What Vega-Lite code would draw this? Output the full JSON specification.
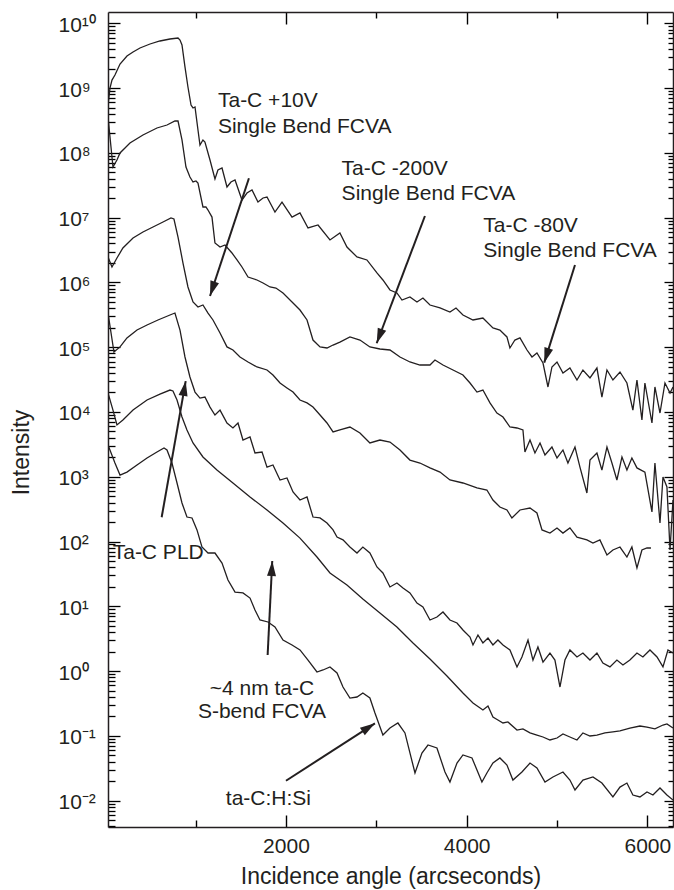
{
  "$schema": "https://vega.github.io/schema/vega-lite/v6.json",
  "width": 565,
  "height": 815,
  "autosize": {"type": "none"},
  "padding": {"left": 108, "top": 12, "right": 1, "bottom": 63},
  "background": "white",
  "config": {
    "view": {"stroke": null},
    "axis": {"grid": false, "labelFont": "Liberation Sans", "titleFont": "Liberation Sans", "labelColor": "#231f20", "titleColor": "#231f20", "titleFontWeight": "normal", "labelOverlap": false, "labelFlush": false},
    "text": {"font": "Liberation Sans", "fontSize": 21, "color": "#231f20"}
  },
  "resolve": {"axis": {"x": "independent", "y": "independent"}},
  "datasets": {
    "curves": [
      {"series":"Ta-C -80V","x":30,"y":5.48e8},{"series":"Ta-C -80V","x":52,"y":1.00e9},{"series":"Ta-C -80V","x":74,"y":1.33e9},{"series":"Ta-C -80V","x":107,"y":1.59e9},{"series":"Ta-C -80V","x":163,"y":2.35e9},{"series":"Ta-C -80V","x":240,"y":3.13e9},{"series":"Ta-C -80V","x":307,"y":3.61e9},{"series":"Ta-C -80V","x":384,"y":4.16e9},{"series":"Ta-C -80V","x":495,"y":4.79e9},{"series":"Ta-C -80V","x":605,"y":5.33e9},{"series":"Ta-C -80V","x":716,"y":5.72e9},{"series":"Ta-C -80V","x":805,"y":5.93e9},{"series":"Ta-C -80V","x":827,"y":5.52e9},{"series":"Ta-C -80V","x":849,"y":4.62e9},{"series":"Ta-C -80V","x":882,"y":2.12e9},{"series":"Ta-C -80V","x":915,"y":1.04e9},{"series":"Ta-C -80V","x":949,"y":5.48e8},{"series":"Ta-C -80V","x":971,"y":4.93e8},{"series":"Ta-C -80V","x":993,"y":5.10e8},{"series":"Ta-C -80V","x":1026,"y":2.25e8},{"series":"Ta-C -80V","x":1048,"y":1.32e8},{"series":"Ta-C -80V","x":1081,"y":1.58e8},{"series":"Ta-C -80V","x":1103,"y":1.47e8},{"series":"Ta-C -80V","x":1159,"y":7.76e7},{"series":"Ta-C -80V","x":1214,"y":3.95e7},{"series":"Ta-C -80V","x":1247,"y":5.44e7},{"series":"Ta-C -80V","x":1292,"y":5.84e7},{"series":"Ta-C -80V","x":1347,"y":2.97e7},{"series":"Ta-C -80V","x":1391,"y":3.55e7},{"series":"Ta-C -80V","x":1436,"y":3.81e7},{"series":"Ta-C -80V","x":1513,"y":1.87e7},{"series":"Ta-C -80V","x":1568,"y":2.40e7},{"series":"Ta-C -80V","x":1624,"y":2.67e7},{"series":"Ta-C -80V","x":1690,"y":1.74e7},{"series":"Ta-C -80V","x":1746,"y":2.01e7},{"series":"Ta-C -80V","x":1790,"y":2.08e7},{"series":"Ta-C -80V","x":1878,"y":1.22e7},{"series":"Ta-C -80V","x":1956,"y":1.74e7},{"series":"Ta-C -80V","x":2067,"y":1.02e7},{"series":"Ta-C -80V","x":2155,"y":1.18e7},{"series":"Ta-C -80V","x":2244,"y":6.92e6},{"series":"Ta-C -80V","x":2355,"y":7.70e6},{"series":"Ta-C -80V","x":2487,"y":4.52e6},{"series":"Ta-C -80V","x":2597,"y":5.79e6},{"series":"Ta-C -80V","x":2675,"y":3.52e6},{"series":"Ta-C -80V","x":2786,"y":2.47e6},{"series":"Ta-C -80V","x":2896,"y":2.22e6},{"series":"Ta-C -80V","x":3007,"y":1.40e6},{"series":"Ta-C -80V","x":3073,"y":1.09e6},{"series":"Ta-C -80V","x":3151,"y":7.64e5},{"series":"Ta-C -80V","x":3228,"y":6.87e5},{"series":"Ta-C -80V","x":3284,"y":5.35e5},{"series":"Ta-C -80V","x":3372,"y":5.96e5},{"series":"Ta-C -80V","x":3450,"y":4.99e5},{"series":"Ta-C -80V","x":3516,"y":5.75e5},{"series":"Ta-C -80V","x":3594,"y":4.48e5},{"series":"Ta-C -80V","x":3705,"y":4.03e5},{"series":"Ta-C -80V","x":3815,"y":3.49e5},{"series":"Ta-C -80V","x":3882,"y":4.03e5},{"series":"Ta-C -80V","x":3959,"y":3.14e5},{"series":"Ta-C -80V","x":4070,"y":2.63e5},{"series":"Ta-C -80V","x":4180,"y":2.82e5},{"series":"Ta-C -80V","x":4291,"y":1.98e5},{"series":"Ta-C -80V","x":4368,"y":1.84e5},{"series":"Ta-C -80V","x":4446,"y":1.44e5},{"series":"Ta-C -80V","x":4479,"y":9.72e4},{"series":"Ta-C -80V","x":4534,"y":1.29e5},{"series":"Ta-C -80V","x":4590,"y":1.39e5},{"series":"Ta-C -80V","x":4668,"y":9.05e4},{"series":"Ta-C -80V","x":4723,"y":7.06e4},{"series":"Ta-C -80V","x":4778,"y":8.14e4},{"series":"Ta-C -80V","x":4845,"y":5.70e4},{"series":"Ta-C -80V","x":4900,"y":2.43e4},{"series":"Ta-C -80V","x":4944,"y":4.95e4},{"series":"Ta-C -80V","x":5000,"y":5.91e4},{"series":"Ta-C -80V","x":5066,"y":4.00e4},{"series":"Ta-C -80V","x":5143,"y":4.77e4},{"series":"Ta-C -80V","x":5221,"y":3.12e4},{"series":"Ta-C -80V","x":5287,"y":4.45e4},{"series":"Ta-C -80V","x":5365,"y":3.35e4},{"series":"Ta-C -80V","x":5442,"y":4.77e4},{"series":"Ta-C -80V","x":5497,"y":1.70e4},{"series":"Ta-C -80V","x":5553,"y":4.45e4},{"series":"Ta-C -80V","x":5619,"y":3.12e4},{"series":"Ta-C -80V","x":5697,"y":4.14e4},{"series":"Ta-C -80V","x":5774,"y":2.80e4},{"series":"Ta-C -80V","x":5840,"y":1.07e4},{"series":"Ta-C -80V","x":5885,"y":3.12e4},{"series":"Ta-C -80V","x":5940,"y":7.52e3},{"series":"Ta-C -80V","x":5973,"y":2.80e4},{"series":"Ta-C -80V","x":6051,"y":6.76e3},{"series":"Ta-C -80V","x":6084,"y":2.43e4},{"series":"Ta-C -80V","x":6140,"y":9.64e3},{"series":"Ta-C -80V","x":6195,"y":2.80e4},{"series":"Ta-C -80V","x":6251,"y":1.96e4},{"series":"Ta-C -80V","x":6284,"y":2.43e4},

      {"series":"Ta-C -200V","x":30,"y":3.58e8},{"series":"Ta-C -200V","x":85,"y":6.05e7},{"series":"Ta-C -200V","x":129,"y":7.76e7},{"series":"Ta-C -200V","x":163,"y":9.95e7},{"series":"Ta-C -200V","x":273,"y":1.42e8},{"series":"Ta-C -200V","x":417,"y":1.89e8},{"series":"Ta-C -200V","x":572,"y":2.42e8},{"series":"Ta-C -200V","x":683,"y":2.69e8},{"series":"Ta-C -200V","x":771,"y":3.10e8},{"series":"Ta-C -200V","x":805,"y":3.10e8},{"series":"Ta-C -200V","x":849,"y":1.58e8},{"series":"Ta-C -200V","x":893,"y":6.05e7},{"series":"Ta-C -200V","x":937,"y":4.24e7},{"series":"Ta-C -200V","x":971,"y":3.55e7},{"series":"Ta-C -200V","x":1004,"y":3.68e7},{"series":"Ta-C -200V","x":1026,"y":3.42e7},{"series":"Ta-C -200V","x":1081,"y":1.46e7},{"series":"Ta-C -200V","x":1114,"y":1.46e7},{"series":"Ta-C -200V","x":1137,"y":1.31e7},{"series":"Ta-C -200V","x":1181,"y":1.02e7},{"series":"Ta-C -200V","x":1214,"y":4.06e6},{"series":"Ta-C -200V","x":1270,"y":3.52e6},{"series":"Ta-C -200V","x":1325,"y":3.78e6},{"series":"Ta-C -200V","x":1402,"y":2.85e6},{"series":"Ta-C -200V","x":1458,"y":2.22e6},{"series":"Ta-C -200V","x":1513,"y":1.73e6},{"series":"Ta-C -200V","x":1580,"y":1.21e6},{"series":"Ta-C -200V","x":1679,"y":1.09e6},{"series":"Ta-C -200V","x":1746,"y":9.79e5},{"series":"Ta-C -200V","x":1823,"y":8.50e5},{"series":"Ta-C -200V","x":1889,"y":8.20e5},{"series":"Ta-C -200V","x":1967,"y":6.87e5},{"series":"Ta-C -200V","x":2067,"y":4.99e5},{"series":"Ta-C -200V","x":2155,"y":3.75e5},{"series":"Ta-C -200V","x":2233,"y":2.63e5},{"series":"Ta-C -200V","x":2299,"y":1.29e5},{"series":"Ta-C -200V","x":2377,"y":1.01e5},{"series":"Ta-C -200V","x":2454,"y":9.72e4},{"series":"Ta-C -200V","x":2521,"y":1.08e5},{"series":"Ta-C -200V","x":2597,"y":1.20e5},{"series":"Ta-C -200V","x":2708,"y":1.44e5},{"series":"Ta-C -200V","x":2819,"y":1.29e5},{"series":"Ta-C -200V","x":2929,"y":1.01e5},{"series":"Ta-C -200V","x":3040,"y":9.38e4},{"series":"Ta-C -200V","x":3151,"y":9.05e4},{"series":"Ta-C -200V","x":3262,"y":7.06e4},{"series":"Ta-C -200V","x":3372,"y":5.91e4},{"series":"Ta-C -200V","x":3483,"y":5.31e4},{"series":"Ta-C -200V","x":3594,"y":5.31e4},{"series":"Ta-C -200V","x":3649,"y":6.34e4},{"series":"Ta-C -200V","x":3738,"y":5.31e4},{"series":"Ta-C -200V","x":3849,"y":4.45e4},{"series":"Ta-C -200V","x":3959,"y":3.72e4},{"series":"Ta-C -200V","x":4037,"y":2.80e4},{"series":"Ta-C -200V","x":4114,"y":2.03e4},{"series":"Ta-C -200V","x":4180,"y":2.18e4},{"series":"Ta-C -200V","x":4258,"y":1.38e4},{"series":"Ta-C -200V","x":4335,"y":9.64e3},{"series":"Ta-C -200V","x":4402,"y":8.36e3},{"series":"Ta-C -200V","x":4479,"y":5.86e3},{"series":"Ta-C -200V","x":4557,"y":5.66e3},{"series":"Ta-C -200V","x":4623,"y":5.27e3},{"series":"Ta-C -200V","x":4645,"y":2.41e3},{"series":"Ta-C -200V","x":4701,"y":3.69e3},{"series":"Ta-C -200V","x":4756,"y":2.33e3},{"series":"Ta-C -200V","x":4812,"y":3.32e3},{"series":"Ta-C -200V","x":4867,"y":2.17e3},{"series":"Ta-C -200V","x":4944,"y":2.88e3},{"series":"Ta-C -200V","x":5000,"y":1.95e3},{"series":"Ta-C -200V","x":5066,"y":2.59e3},{"series":"Ta-C -200V","x":5121,"y":1.63e3},{"series":"Ta-C -200V","x":5199,"y":2.88e3},{"series":"Ta-C -200V","x":5254,"y":1.41e3},{"series":"Ta-C -200V","x":5331,"y":562},{"series":"Ta-C -200V","x":5365,"y":1.81e3},{"series":"Ta-C -200V","x":5442,"y":2.33e3},{"series":"Ta-C -200V","x":5497,"y":1.27e3},{"series":"Ta-C -200V","x":5553,"y":2.88e3},{"series":"Ta-C -200V","x":5608,"y":1.63e3},{"series":"Ta-C -200V","x":5663,"y":891},{"series":"Ta-C -200V","x":5719,"y":2.02e3},{"series":"Ta-C -200V","x":5774,"y":1.27e3},{"series":"Ta-C -200V","x":5829,"y":1.95e3},{"series":"Ta-C -200V","x":5885,"y":1.37e3},{"series":"Ta-C -200V","x":5973,"y":1.18e3},{"series":"Ta-C -200V","x":6051,"y":286},{"series":"Ta-C -200V","x":6084,"y":1.63e3},{"series":"Ta-C -200V","x":6140,"y":193},{"series":"Ta-C -200V","x":6173,"y":991},{"series":"Ta-C -200V","x":6217,"y":695},{"series":"Ta-C -200V","x":6251,"y":74.0},{"series":"Ta-C -200V","x":6284,"y":438},

      {"series":"Ta-C +10V","x":30,"y":2.47e6},{"series":"Ta-C +10V","x":74,"y":1.73e6},{"series":"Ta-C +10V","x":129,"y":2.38e6},{"series":"Ta-C +10V","x":195,"y":3.40e6},{"series":"Ta-C +10V","x":307,"y":4.85e6},{"series":"Ta-C +10V","x":417,"y":6.00e6},{"series":"Ta-C +10V","x":528,"y":7.17e6},{"series":"Ta-C +10V","x":639,"y":8.56e6},{"series":"Ta-C +10V","x":727,"y":9.87e6},{"series":"Ta-C +10V","x":760,"y":9.53e6},{"series":"Ta-C +10V","x":805,"y":5.02e6},{"series":"Ta-C +10V","x":860,"y":1.99e6},{"series":"Ta-C +10V","x":915,"y":8.50e5},{"series":"Ta-C +10V","x":971,"y":4.99e5},{"series":"Ta-C +10V","x":1026,"y":4.17e5},{"series":"Ta-C +10V","x":1081,"y":4.48e5},{"series":"Ta-C +10V","x":1137,"y":3.37e5},{"series":"Ta-C +10V","x":1192,"y":2.63e5},{"series":"Ta-C +10V","x":1270,"y":1.66e5},{"series":"Ta-C +10V","x":1347,"y":1.01e5},{"series":"Ta-C +10V","x":1413,"y":9.05e4},{"series":"Ta-C +10V","x":1491,"y":7.06e4},{"series":"Ta-C +10V","x":1580,"y":5.91e4},{"series":"Ta-C +10V","x":1679,"y":4.95e4},{"series":"Ta-C +10V","x":1790,"y":4.45e4},{"series":"Ta-C +10V","x":1856,"y":3.72e4},{"series":"Ta-C +10V","x":1934,"y":2.80e4},{"series":"Ta-C +10V","x":2011,"y":2.35e4},{"series":"Ta-C +10V","x":2078,"y":2.03e4},{"series":"Ta-C +10V","x":2155,"y":1.53e4},{"series":"Ta-C +10V","x":2233,"y":1.38e4},{"series":"Ta-C +10V","x":2299,"y":1.19e4},{"series":"Ta-C +10V","x":2377,"y":8.98e3},{"series":"Ta-C +10V","x":2454,"y":6.76e3},{"series":"Ta-C +10V","x":2521,"y":4.91e3},{"series":"Ta-C +10V","x":2597,"y":5.27e3},{"series":"Ta-C +10V","x":2708,"y":5.86e3},{"series":"Ta-C +10V","x":2819,"y":4.74e3},{"series":"Ta-C +10V","x":2929,"y":3.32e3},{"series":"Ta-C +10V","x":3040,"y":3.69e3},{"series":"Ta-C +10V","x":3151,"y":3.44e3},{"series":"Ta-C +10V","x":3262,"y":2.59e3},{"series":"Ta-C +10V","x":3372,"y":1.81e3},{"series":"Ta-C +10V","x":3483,"y":1.63e3},{"series":"Ta-C +10V","x":3594,"y":1.37e3},{"series":"Ta-C +10V","x":3705,"y":1.18e3},{"series":"Ta-C +10V","x":3815,"y":891},{"series":"Ta-C +10V","x":3959,"y":801},{"series":"Ta-C +10V","x":4114,"y":671},{"series":"Ta-C +10V","x":4224,"y":624},{"series":"Ta-C +10V","x":4291,"y":438},{"series":"Ta-C +10V","x":4368,"y":341},{"series":"Ta-C +10V","x":4446,"y":307},{"series":"Ta-C +10V","x":4501,"y":231},{"series":"Ta-C +10V","x":4590,"y":307},{"series":"Ta-C +10V","x":4701,"y":329},{"series":"Ta-C +10V","x":4778,"y":276},{"series":"Ta-C +10V","x":4834,"y":151},{"series":"Ta-C +10V","x":4922,"y":135},{"series":"Ta-C +10V","x":5000,"y":162},{"series":"Ta-C +10V","x":5066,"y":135},{"series":"Ta-C +10V","x":5143,"y":162},{"series":"Ta-C +10V","x":5221,"y":117},{"series":"Ta-C +10V","x":5331,"y":106},{"series":"Ta-C +10V","x":5398,"y":94.9},{"series":"Ta-C +10V","x":5475,"y":106},{"series":"Ta-C +10V","x":5553,"y":62.0},{"series":"Ta-C +10V","x":5619,"y":74.0},{"series":"Ta-C +10V","x":5697,"y":82.3},{"series":"Ta-C +10V","x":5774,"y":57.7},{"series":"Ta-C +10V","x":5829,"y":82.3},{"series":"Ta-C +10V","x":5885,"y":39.0},{"series":"Ta-C +10V","x":5940,"y":74.0},{"series":"Ta-C +10V","x":5996,"y":79.5},{"series":"Ta-C +10V","x":6040,"y":79.5},

      {"series":"Ta-C PLD","x":30,"y":3.37e5},{"series":"Ta-C PLD","x":96,"y":8.43e4},{"series":"Ta-C PLD","x":163,"y":1.01e5},{"series":"Ta-C PLD","x":240,"y":1.39e5},{"series":"Ta-C PLD","x":351,"y":1.84e5},{"series":"Ta-C PLD","x":462,"y":2.20e5},{"series":"Ta-C PLD","x":583,"y":2.63e5},{"series":"Ta-C PLD","x":716,"y":3.14e5},{"series":"Ta-C PLD","x":771,"y":3.37e5},{"series":"Ta-C PLD","x":827,"y":1.84e5},{"series":"Ta-C PLD","x":882,"y":7.06e4},{"series":"Ta-C PLD","x":937,"y":3.47e4},{"series":"Ta-C PLD","x":993,"y":2.03e4},{"series":"Ta-C PLD","x":1048,"y":1.64e4},{"series":"Ta-C PLD","x":1103,"y":1.70e4},{"series":"Ta-C PLD","x":1159,"y":1.19e4},{"series":"Ta-C PLD","x":1214,"y":8.98e3},{"series":"Ta-C PLD","x":1270,"y":1.07e4},{"series":"Ta-C PLD","x":1347,"y":6.76e3},{"series":"Ta-C PLD","x":1413,"y":5.66e3},{"series":"Ta-C PLD","x":1469,"y":6.76e3},{"series":"Ta-C PLD","x":1524,"y":3.69e3},{"series":"Ta-C PLD","x":1602,"y":4.11e3},{"series":"Ta-C PLD","x":1657,"y":2.33e3},{"series":"Ta-C PLD","x":1735,"y":2.41e3},{"series":"Ta-C PLD","x":1790,"y":1.41e3},{"series":"Ta-C PLD","x":1856,"y":1.52e3},{"series":"Ta-C PLD","x":1934,"y":891},{"series":"Ta-C PLD","x":2011,"y":957},{"series":"Ta-C PLD","x":2078,"y":582},{"series":"Ta-C PLD","x":2155,"y":438},{"series":"Ta-C PLD","x":2233,"y":487},{"series":"Ta-C PLD","x":2299,"y":239},{"series":"Ta-C PLD","x":2377,"y":231},{"series":"Ta-C PLD","x":2454,"y":193},{"series":"Ta-C PLD","x":2521,"y":151},{"series":"Ta-C PLD","x":2565,"y":117},{"series":"Ta-C PLD","x":2631,"y":106},{"series":"Ta-C PLD","x":2708,"y":82.3},{"series":"Ta-C PLD","x":2786,"y":66.5},{"series":"Ta-C PLD","x":2851,"y":82.3},{"series":"Ta-C PLD","x":2929,"y":66.5},{"series":"Ta-C PLD","x":3007,"y":40.5},{"series":"Ta-C PLD","x":3073,"y":32.7},{"series":"Ta-C PLD","x":3151,"y":19.9},{"series":"Ta-C PLD","x":3228,"y":22.9},{"series":"Ta-C PLD","x":3295,"y":19.2},{"series":"Ta-C PLD","x":3372,"y":16.1},{"series":"Ta-C PLD","x":3450,"y":11.2},{"series":"Ta-C PLD","x":3516,"y":9.76},{"series":"Ta-C PLD","x":3594,"y":6.15},{"series":"Ta-C PLD","x":3671,"y":6.84},{"series":"Ta-C PLD","x":3738,"y":8.17},{"series":"Ta-C PLD","x":3815,"y":6.15},{"series":"Ta-C PLD","x":3893,"y":5.53},{"series":"Ta-C PLD","x":3959,"y":4.31},{"series":"Ta-C PLD","x":4037,"y":3.36},{"series":"Ta-C PLD","x":4070,"y":2.53},{"series":"Ta-C PLD","x":4125,"y":3.61},{"series":"Ta-C PLD","x":4180,"y":2.72},{"series":"Ta-C PLD","x":4236,"y":3.24},{"series":"Ta-C PLD","x":4291,"y":2.53},{"series":"Ta-C PLD","x":4346,"y":3.02},{"series":"Ta-C PLD","x":4402,"y":2.53},{"series":"Ta-C PLD","x":4479,"y":2.12},{"series":"Ta-C PLD","x":4557,"y":1.16},{"series":"Ta-C PLD","x":4612,"y":1.65},{"series":"Ta-C PLD","x":4679,"y":3.02},{"series":"Ta-C PLD","x":4734,"y":1.48},{"series":"Ta-C PLD","x":4789,"y":2.36},{"series":"Ta-C PLD","x":4845,"y":1.38},{"series":"Ta-C PLD","x":4922,"y":1.90},{"series":"Ta-C PLD","x":4977,"y":1.48},{"series":"Ta-C PLD","x":5033,"y":0.568},{"series":"Ta-C PLD","x":5088,"y":1.48},{"series":"Ta-C PLD","x":5143,"y":2.12},{"series":"Ta-C PLD","x":5221,"y":1.65},{"series":"Ta-C PLD","x":5287,"y":1.90},{"series":"Ta-C PLD","x":5365,"y":1.48},{"series":"Ta-C PLD","x":5442,"y":1.90},{"series":"Ta-C PLD","x":5508,"y":1.33},{"series":"Ta-C PLD","x":5586,"y":1.16},{"series":"Ta-C PLD","x":5663,"y":1.48},{"series":"Ta-C PLD","x":5730,"y":1.24},{"series":"Ta-C PLD","x":5807,"y":1.48},{"series":"Ta-C PLD","x":5885,"y":1.90},{"series":"Ta-C PLD","x":5951,"y":1.65},{"series":"Ta-C PLD","x":6029,"y":2.12},{"series":"Ta-C PLD","x":6107,"y":1.65},{"series":"Ta-C PLD","x":6173,"y":1.16},{"series":"Ta-C PLD","x":6228,"y":2.12},{"series":"Ta-C PLD","x":6284,"y":1.90},

      {"series":"~4 nm ta-C S-bend FCVA","x":30,"y":1.96e4},{"series":"~4 nm ta-C S-bend FCVA","x":85,"y":1.07e4},{"series":"~4 nm ta-C S-bend FCVA","x":129,"y":6.30e3},{"series":"~4 nm ta-C S-bend FCVA","x":195,"y":7.52e3},{"series":"~4 nm ta-C S-bend FCVA","x":307,"y":1.07e4},{"series":"~4 nm ta-C S-bend FCVA","x":462,"y":1.53e4},{"series":"~4 nm ta-C S-bend FCVA","x":605,"y":1.89e4},{"series":"~4 nm ta-C S-bend FCVA","x":716,"y":2.18e4},{"series":"~4 nm ta-C S-bend FCVA","x":749,"y":2.11e4},{"series":"~4 nm ta-C S-bend FCVA","x":794,"y":1.53e4},{"series":"~4 nm ta-C S-bend FCVA","x":849,"y":8.36e3},{"series":"~4 nm ta-C S-bend FCVA","x":904,"y":5.27e3},{"series":"~4 nm ta-C S-bend FCVA","x":971,"y":3.32e3},{"series":"~4 nm ta-C S-bend FCVA","x":1081,"y":2.02e3},{"series":"~4 nm ta-C S-bend FCVA","x":1236,"y":1.27e3},{"series":"~4 nm ta-C S-bend FCVA","x":1413,"y":801},{"series":"~4 nm ta-C S-bend FCVA","x":1602,"y":487},{"series":"~4 nm ta-C S-bend FCVA","x":1790,"y":307},{"series":"~4 nm ta-C S-bend FCVA","x":1967,"y":193},{"series":"~4 nm ta-C S-bend FCVA","x":2155,"y":113},{"series":"~4 nm ta-C S-bend FCVA","x":2343,"y":57.7},{"series":"~4 nm ta-C S-bend FCVA","x":2487,"y":32.7},{"series":"~4 nm ta-C S-bend FCVA","x":2675,"y":21.3},{"series":"~4 nm ta-C S-bend FCVA","x":2851,"y":13.0},{"series":"~4 nm ta-C S-bend FCVA","x":3040,"y":7.88},{"series":"~4 nm ta-C S-bend FCVA","x":3228,"y":4.79},{"series":"~4 nm ta-C S-bend FCVA","x":3406,"y":2.72},{"series":"~4 nm ta-C S-bend FCVA","x":3594,"y":1.54},{"series":"~4 nm ta-C S-bend FCVA","x":3782,"y":0.840},{"series":"~4 nm ta-C S-bend FCVA","x":3959,"y":0.459},{"series":"~4 nm ta-C S-bend FCVA","x":4070,"y":0.322},{"series":"~4 nm ta-C S-bend FCVA","x":4180,"y":0.251},{"series":"~4 nm ta-C S-bend FCVA","x":4236,"y":0.289},{"series":"~4 nm ta-C S-bend FCVA","x":4291,"y":0.196},{"series":"~4 nm ta-C S-bend FCVA","x":4346,"y":0.176},{"series":"~4 nm ta-C S-bend FCVA","x":4402,"y":0.158},{"series":"~4 nm ta-C S-bend FCVA","x":4457,"y":0.164},{"series":"~4 nm ta-C S-bend FCVA","x":4557,"y":0.123},{"series":"~4 nm ta-C S-bend FCVA","x":4623,"y":0.128},{"series":"~4 nm ta-C S-bend FCVA","x":4701,"y":0.111},{"series":"~4 nm ta-C S-bend FCVA","x":4778,"y":0.103},{"series":"~4 nm ta-C S-bend FCVA","x":4845,"y":0.0961},{"series":"~4 nm ta-C S-bend FCVA","x":4922,"y":0.0864},{"series":"~4 nm ta-C S-bend FCVA","x":5000,"y":0.0927},{"series":"~4 nm ta-C S-bend FCVA","x":5066,"y":0.107},{"series":"~4 nm ta-C S-bend FCVA","x":5143,"y":0.0961},{"series":"~4 nm ta-C S-bend FCVA","x":5221,"y":0.0864},{"series":"~4 nm ta-C S-bend FCVA","x":5287,"y":0.111},{"series":"~4 nm ta-C S-bend FCVA","x":5365,"y":0.0996},{"series":"~4 nm ta-C S-bend FCVA","x":5442,"y":0.103},{"series":"~4 nm ta-C S-bend FCVA","x":5531,"y":0.111},{"series":"~4 nm ta-C S-bend FCVA","x":5619,"y":0.115},{"series":"~4 nm ta-C S-bend FCVA","x":5697,"y":0.119},{"series":"~4 nm ta-C S-bend FCVA","x":5807,"y":0.132},{"series":"~4 nm ta-C S-bend FCVA","x":5918,"y":0.142},{"series":"~4 nm ta-C S-bend FCVA","x":5996,"y":0.137},{"series":"~4 nm ta-C S-bend FCVA","x":6084,"y":0.128},{"series":"~4 nm ta-C S-bend FCVA","x":6173,"y":0.147},{"series":"~4 nm ta-C S-bend FCVA","x":6217,"y":0.153},{"series":"~4 nm ta-C S-bend FCVA","x":6284,"y":0.132},

      {"series":"ta-C:H:Si","x":30,"y":3.09e3},{"series":"ta-C:H:Si","x":107,"y":1.63e3},{"series":"ta-C:H:Si","x":163,"y":1.06e3},{"series":"ta-C:H:Si","x":240,"y":1.18e3},{"series":"ta-C:H:Si","x":351,"y":1.52e3},{"series":"ta-C:H:Si","x":462,"y":1.95e3},{"series":"ta-C:H:Si","x":572,"y":2.41e3},{"series":"ta-C:H:Si","x":650,"y":2.78e3},{"series":"ta-C:H:Si","x":683,"y":2.59e3},{"series":"ta-C:H:Si","x":738,"y":1.63e3},{"series":"ta-C:H:Si","x":794,"y":801},{"series":"ta-C:H:Si","x":849,"y":393},{"series":"ta-C:H:Si","x":904,"y":239},{"series":"ta-C:H:Si","x":960,"y":231},{"series":"ta-C:H:Si","x":1015,"y":151},{"series":"ta-C:H:Si","x":1070,"y":82.3},{"series":"ta-C:H:Si","x":1137,"y":66.5},{"series":"ta-C:H:Si","x":1214,"y":66.5},{"series":"ta-C:H:Si","x":1292,"y":46.6},{"series":"ta-C:H:Si","x":1358,"y":25.5},{"series":"ta-C:H:Si","x":1436,"y":16.6},{"series":"ta-C:H:Si","x":1524,"y":16.1},{"series":"ta-C:H:Si","x":1602,"y":13.4},{"series":"ta-C:H:Si","x":1657,"y":8.77},{"series":"ta-C:H:Si","x":1712,"y":6.15},{"series":"ta-C:H:Si","x":1801,"y":5.73},{"series":"ta-C:H:Si","x":1878,"y":4.79},{"series":"ta-C:H:Si","x":1967,"y":3.02},{"series":"ta-C:H:Si","x":2067,"y":2.53},{"series":"ta-C:H:Si","x":2155,"y":2.12},{"series":"ta-C:H:Si","x":2244,"y":1.48},{"series":"ta-C:H:Si","x":2343,"y":0.968},{"series":"ta-C:H:Si","x":2410,"y":1.04},{"series":"ta-C:H:Si","x":2487,"y":1.16},{"series":"ta-C:H:Si","x":2565,"y":0.935},{"series":"ta-C:H:Si","x":2631,"y":0.568},{"series":"ta-C:H:Si","x":2708,"y":0.384},{"series":"ta-C:H:Si","x":2786,"y":0.398},{"series":"ta-C:H:Si","x":2851,"y":0.459},{"series":"ta-C:H:Si","x":2929,"y":0.384},{"series":"ta-C:H:Si","x":2985,"y":0.225},{"series":"ta-C:H:Si","x":3073,"y":0.103},{"series":"ta-C:H:Si","x":3151,"y":0.132},{"series":"ta-C:H:Si","x":3239,"y":0.158},{"series":"ta-C:H:Si","x":3317,"y":0.111},{"series":"ta-C:H:Si","x":3428,"y":0.0267},{"series":"ta-C:H:Si","x":3505,"y":0.0544},{"series":"ta-C:H:Si","x":3572,"y":0.0723},{"series":"ta-C:H:Si","x":3671,"y":0.0650},{"series":"ta-C:H:Si","x":3760,"y":0.0277},{"series":"ta-C:H:Si","x":3815,"y":0.0194},{"series":"ta-C:H:Si","x":3893,"y":0.0381},{"series":"ta-C:H:Si","x":3959,"y":0.0507},{"series":"ta-C:H:Si","x":4059,"y":0.0456},{"series":"ta-C:H:Si","x":4169,"y":0.0194},{"series":"ta-C:H:Si","x":4224,"y":0.0267},{"series":"ta-C:H:Si","x":4291,"y":0.0381},{"series":"ta-C:H:Si","x":4368,"y":0.0456},{"series":"ta-C:H:Si","x":4446,"y":0.0355},{"series":"ta-C:H:Si","x":4512,"y":0.0208},{"series":"ta-C:H:Si","x":4612,"y":0.0277},{"series":"ta-C:H:Si","x":4701,"y":0.0381},{"series":"ta-C:H:Si","x":4778,"y":0.0319},{"series":"ta-C:H:Si","x":4867,"y":0.0194},{"series":"ta-C:H:Si","x":4955,"y":0.0232},{"series":"ta-C:H:Si","x":5066,"y":0.0277},{"series":"ta-C:H:Si","x":5143,"y":0.0208},{"series":"ta-C:H:Si","x":5199,"y":0.0146},{"series":"ta-C:H:Si","x":5287,"y":0.0208},{"series":"ta-C:H:Si","x":5398,"y":0.0232},{"series":"ta-C:H:Si","x":5497,"y":0.0187},{"series":"ta-C:H:Si","x":5619,"y":0.0114},{"series":"ta-C:H:Si","x":5697,"y":0.0162},{"series":"ta-C:H:Si","x":5774,"y":0.0187},{"series":"ta-C:H:Si","x":5840,"y":0.0122},{"series":"ta-C:H:Si","x":5918,"y":0.0114},{"series":"ta-C:H:Si","x":5996,"y":0.0136},{"series":"ta-C:H:Si","x":6062,"y":0.0122},{"series":"ta-C:H:Si","x":6140,"y":0.0157},{"series":"ta-C:H:Si","x":6217,"y":0.0122},{"series":"ta-C:H:Si","x":6284,"y":0.0102}
    ],
    "arrows": [
      {"arrow":"a1","end":"tail","x":1590,"y":4.05e7},{"arrow":"a1","end":"tip","x":1159,"y":6.17e5,"angle":198.3},
      {"arrow":"a2","end":"tail","x":3538,"y":1.06e7},{"arrow":"a2","end":"tip","x":3004,"y":1.15e5,"angle":200.8},
      {"arrow":"a3","end":"tail","x":5199,"y":1.86e6},{"arrow":"a3","end":"tip","x":4859,"y":5.77e4,"angle":197.4},
      {"arrow":"a4","end":"tail","x":624,"y":237},{"arrow":"a4","end":"tip","x":890,"y":3.0e4,"angle":10},
      {"arrow":"a5","end":"tail","x":1797,"y":1.77},{"arrow":"a5","end":"tip","x":1848,"y":50.1,"angle":2.8},
      {"arrow":"a6","end":"tail","x":2000,"y":0.0203},{"arrow":"a6","end":"tip","x":2985,"y":0.156,"angle":57.2}
    ],
    "labelsLeft": [
      {"text":"Ta-C +10V","x":1247,"y":5.10e8},
      {"text":"Single Bend FCVA","x":1247,"y":2.03e8},
      {"text":"Ta-C -200V","x":2616,"y":4.55e7},
      {"text":"Single Bend FCVA","x":2616,"y":1.87e7},
      {"text":"Ta-C -80V","x":4184,"y":6.07e6},
      {"text":"Single Bend FCVA","x":4184,"y":2.49e6},
      {"text":"Ta-C PLD","x":82,"y":53.2}
    ],
    "labelsCenter": [
      {"text":"~4 nm ta-C","x":1734,"y":0.428},
      {"text":"S-bend FCVA","x":1734,"y":0.189},
      {"text":"ta-C:H:Si","x":1806,"y":0.00857}
    ]
  },
  "layer": [
    {
      "data": {"name": "curves"},
      "mark": {"type": "line", "stroke": "#231f20", "strokeWidth": 1.3, "clip": true},
      "encoding": {
        "x": {"field": "x", "type": "quantitative", "scale": {"domain": [30, 6284], "nice": false, "zero": false},
          "axis": {"orient": "bottom", "values": [1000, 2000, 3000, 4000, 5000, 6000], "labelExpr": "datum.value % 2000 === 0 ? format(datum.value, 'd') : ''",
            "tickSize": {"condition": {"test": "datum.value % 2000 === 0", "value": -12}, "value": -7}, "tickColor": "black", "tickWidth": 1.4,
            "labelPadding": 20, "labelFontSize": 21, "labelBaseline": "top", "domain": true, "domainColor": "#231f20", "domainWidth": 1.5,
            "title": "Incidence angle (arcseconds)", "titleFontSize": 23, "titleY": 56, "titleBaseline": "alphabetic"}},
        "y": {"field": "y", "type": "quantitative", "scale": {"type": "log", "domain": [0.00392, 1.494e10], "nice": false},
          "axis": {"orient": "left", "values": [0.004,0.005,0.006,0.007,0.008,0.009,0.01,0.02,0.03,0.04,0.05,0.06,0.07,0.08,0.09,0.1,0.2,0.3,0.4,0.5,0.6,0.7,0.8,0.9,1,2,3,4,5,6,7,8,9,10,20,30,40,50,60,70,80,90,100,200,300,400,500,600,700,800,900,1000,2000,3000,4000,5000,6000,7000,8000,9000,1e4,2e4,3e4,4e4,5e4,6e4,7e4,8e4,9e4,1e5,2e5,3e5,4e5,5e5,6e5,7e5,8e5,9e5,1e6,2e6,3e6,4e6,5e6,6e6,7e6,8e6,9e6,1e7,2e7,3e7,4e7,5e7,6e7,7e7,8e7,9e7,1e8,2e8,3e8,4e8,5e8,6e8,7e8,8e8,9e8,1e9,2e9,3e9,4e9,5e9,6e9,7e9,8e9,9e9,1e10],
            "labelExpr": "abs(log(datum.value)/LN10 - round(log(datum.value)/LN10)) > 0.01 ? '' : ['10⁻²','10⁻¹','10⁰','10¹','10²','10³','10⁴','10⁵','10⁶','10⁷','10⁸','10⁹','10¹⁰'][round(log(datum.value)/LN10) + 2]",
            "tickSize": {"condition": {"test": "abs(log(datum.value)/LN10 - round(log(datum.value)/LN10)) < 0.01", "value": -12}, "value": -7}, "tickColor": "black", "tickWidth": 1.3,
            "labelAlign": "left", "labelBaseline": "middle", "labelPadding": 62, "labelOffset": 2, "labelFontSize": 21, "domain": true, "domainColor": "#231f20", "domainWidth": 1.5,
            "title": "Intensity", "titleFontSize": 23, "titleAngle": 270, "titleX": -80, "titleY": 440, "titleAlign": "center", "titleBaseline": "alphabetic"}},
        "detail": {"field": "series", "type": "nominal"}
      }
    },
    {
      "data": {"name": "labelsLeft"},
      "mark": {"type": "text", "align": "left", "baseline": "alphabetic", "fontSize": 21, "color": "#231f20"},
      "encoding": {
        "x": {"field": "x", "type": "quantitative", "scale": {"domain": [30, 6284], "nice": false, "zero": false},
          "axis": {"orient": "top", "values": [1000, 2000, 3000, 4000, 5000, 6000], "labels": false,
            "tickSize": {"condition": {"test": "datum.value % 2000 === 0", "value": -12}, "value": -6}, "tickColor": "black", "tickWidth": 1.4,
            "domain": true, "domainColor": "#231f20", "domainWidth": 1.5, "title": null}},
        "y": {"field": "y", "type": "quantitative", "scale": {"type": "log", "domain": [0.00392, 1.494e10], "nice": false},
          "axis": {"orient": "right", "values": [0.004,0.005,0.006,0.007,0.008,0.009,0.01,0.02,0.03,0.04,0.05,0.06,0.07,0.08,0.09,0.1,0.2,0.3,0.4,0.5,0.6,0.7,0.8,0.9,1,2,3,4,5,6,7,8,9,10,20,30,40,50,60,70,80,90,100,200,300,400,500,600,700,800,900,1000,2000,3000,4000,5000,6000,7000,8000,9000,1e4,2e4,3e4,4e4,5e4,6e4,7e4,8e4,9e4,1e5,2e5,3e5,4e5,5e5,6e5,7e5,8e5,9e5,1e6,2e6,3e6,4e6,5e6,6e6,7e6,8e6,9e6,1e7,2e7,3e7,4e7,5e7,6e7,7e7,8e7,9e7,1e8,2e8,3e8,4e8,5e8,6e8,7e8,8e8,9e8,1e9,2e9,3e9,4e9,5e9,6e9,7e9,8e9,9e9,1e10],
            "labels": false,
            "tickSize": {"condition": {"test": "abs(log(datum.value)/LN10 - round(log(datum.value)/LN10)) < 0.01", "value": -9}, "value": -5}, "tickColor": "black", "tickWidth": 1.3,
            "domain": true, "domainColor": "#231f20", "domainWidth": 1.5, "title": null}},
        "text": {"field": "text", "type": "nominal"}
      }
    },
    {
      "data": {"name": "labelsCenter"},
      "mark": {"type": "text", "align": "center", "baseline": "alphabetic", "fontSize": 21, "color": "#231f20"},
      "encoding": {
        "x": {"field": "x", "type": "quantitative", "scale": {"domain": [30, 6284], "nice": false, "zero": false}, "axis": null},
        "y": {"field": "y", "type": "quantitative", "scale": {"type": "log", "domain": [0.00392, 1.494e10], "nice": false}, "axis": null},
        "text": {"field": "text", "type": "nominal"}
      }
    },
    {
      "data": {"name": "arrows"},
      "mark": {"type": "line", "stroke": "#231f20", "strokeWidth": 2},
      "encoding": {
        "x": {"field": "x", "type": "quantitative", "scale": {"domain": [30, 6284], "nice": false, "zero": false}, "axis": null},
        "y": {"field": "y", "type": "quantitative", "scale": {"type": "log", "domain": [0.00392, 1.494e10], "nice": false}, "axis": null},
        "detail": {"field": "arrow", "type": "nominal"}
      }
    },
    {
      "data": {"name": "arrows"},
      "transform": [{"filter": "datum.end === 'tip'"}],
      "mark": {"type": "point", "shape": "M0,0 L0.3,1 L-0.3,1 Z", "filled": true, "fill": "#231f20", "strokeWidth": 0, "opacity": 1, "size": 900},
      "encoding": {
        "x": {"field": "x", "type": "quantitative", "scale": {"domain": [30, 6284], "nice": false, "zero": false}, "axis": null},
        "y": {"field": "y", "type": "quantitative", "scale": {"type": "log", "domain": [0.00392, 1.494e10], "nice": false}, "axis": null},
        "angle": {"field": "angle", "type": "quantitative", "scale": null}
      }
    }
  ]
}
